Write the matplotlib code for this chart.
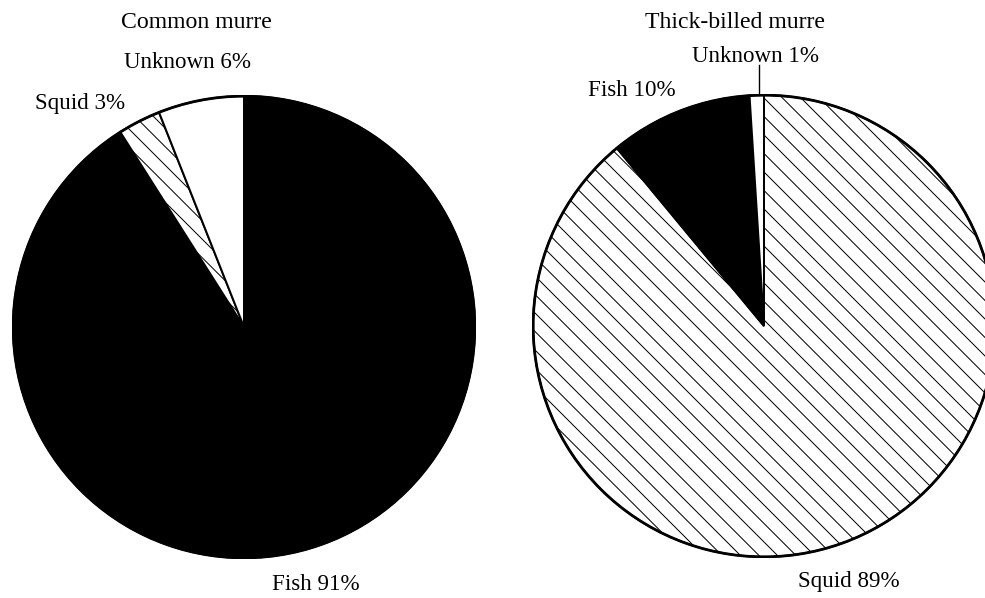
import matplotlib
matplotlib.use("Agg")
import matplotlib.pyplot as plt

# diet composition (%), wedges go clockwise from 12 o'clock
common_labels = ["Fish", "Squid", "Unknown"]
common_values = [91, 3, 6]

thick_labels = ["Squid", "Fish", "Unknown"]
thick_values = [89, 10, 1]

styles = {
    "Fish": dict(facecolor="black", hatch=None),
    "Squid": dict(facecolor="white", hatch="\\\\"),
    "Unknown": dict(facecolor="white", hatch=None),
}

DPI = 111
W, H = 985, 598
plt.rcParams["font.family"] = ["Liberation Serif", "DejaVu Serif"]
plt.rcParams["hatch.linewidth"] = 0.65
plt.rcParams["hatch.color"] = "black"

fig = plt.figure(figsize=(W / DPI, H / DPI), dpi=DPI)


def pie_axes(cx, cy, r):
    # axes box in pixels around the pie centre
    ax = fig.add_axes([(cx - r) / W, (H - cy - r) / H, 2 * r / W, 2 * r / H])
    ax.axis("off")
    return ax


def draw_pie(ax, labels, values):
    wedges, _ = ax.pie(values, startangle=90, counterclock=False, radius=1,
                       colors=[styles[l]["facecolor"] for l in labels],
                       wedgeprops=dict(edgecolor="black", linewidth=1.3))
    for w, l in zip(wedges, labels):
        if styles[l]["hatch"]:
            w.set_hatch(styles[l]["hatch"])
    # heavier outer rim
    ax.add_patch(plt.Circle((0, 0), 1, fill=False, edgecolor="black", linewidth=1.8))
    ax.set_xlim(-1.005, 1.005)
    ax.set_ylim(-1.005, 1.005)
    return wedges


ax1 = pie_axes(244, 327, 232)
draw_pie(ax1, common_labels, common_values)

ax2 = pie_axes(764, 326, 232)
draw_pie(ax2, thick_labels, thick_values)


def px_text(x, y, s, size=14.9):
    fig.text(x / W, 1 - y / H, s, ha="center", va="center", fontsize=size)


px_text(196, 22, "Common murre", 15.4)
px_text(735, 22, "Thick-billed murre", 15.4)

for lab, val, (x, y) in zip(common_labels, common_values,
                            [(316, 585), (80, 103), (188, 62)]):
    px_text(x, y, f"{lab} {val}%")

for lab, val, (x, y) in zip(thick_labels, thick_values,
                            [(849, 581), (632, 91), (755, 56)]):
    px_text(x, y, f"{lab} {val}%")

# leader line for the tiny Unknown wedge
fig.add_artist(plt.Line2D([759 / W, 759 / W], [1 - 65 / H, 1 - 95 / H],
                          color="black", linewidth=0.9))

fig.savefig("out.png", dpi=DPI, facecolor="white")
